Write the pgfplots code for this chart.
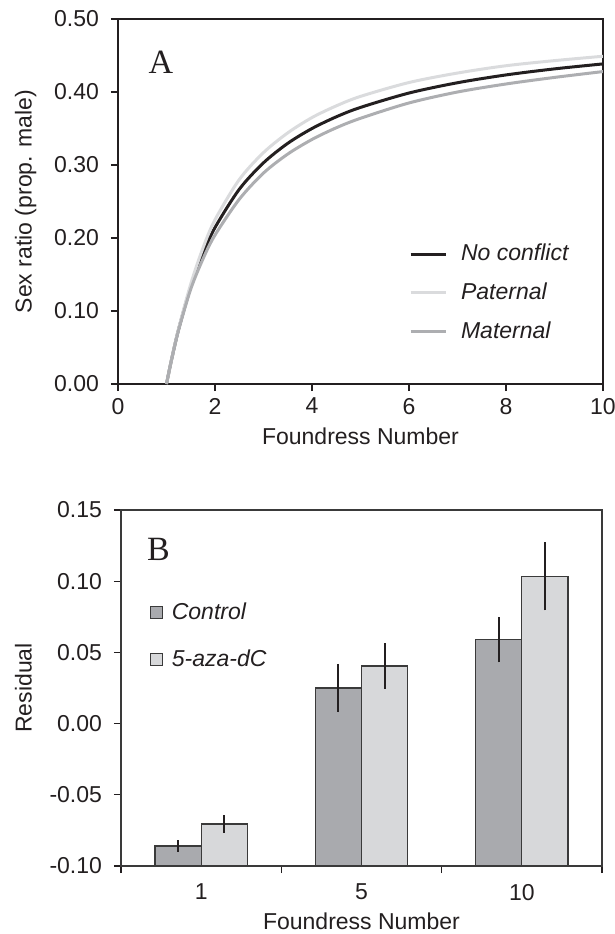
\documentclass[border=0pt]{standalone}
\usepackage{fontspec}
\setmainfont{Liberation Sans}
\newfontfamily\serifA{Liberation Serif}
\usepackage{pgfplots}
\usepackage{pgfplotstable}
\pgfplotsset{compat=1.18}

\definecolor{nocon}{HTML}{231F20}
\definecolor{pat}{HTML}{DADBDD}
\definecolor{mat}{HTML}{ADAEB1}
\definecolor{ctl}{HTML}{A9AAAE}
\definecolor{aza}{HTML}{D7D8DA}
\definecolor{edge}{HTML}{3A3A3A}

% optimal sex ratio curves
\pgfplotstableread{
n     black   pat     mat
1.00  0.0000  0.0000  0.0000
1.10  0.0321  0.0322  0.0320
1.25  0.0750  0.0760  0.0740
1.50  0.1333  0.1370  0.1300
1.75  0.1786  0.1860  0.1710
2.00  0.2143  0.2250  0.2040
2.50  0.2667  0.2800  0.2530
3.00  0.3030  0.3170  0.2890
3.50  0.3297  0.3440  0.3150
4.00  0.3500  0.3650  0.3350
4.50  0.3660  0.3810  0.3510
5.00  0.3789  0.3940  0.3640
6.00  0.3986  0.4130  0.3850
7.00  0.4127  0.4260  0.4000
8.00  0.4234  0.4360  0.4110
9.00  0.4317  0.4430  0.4200
10.00 0.4385  0.4490  0.4280
}\curves

% residuals, groups at x = 0,1,2 (foundress 1, 5, 10)
\pgfplotstableread{
x ctl    ctlerr aza     azaerr
0 -0.086 0.004  -0.0705 0.006
1 0.025  0.017  0.0405  0.016
2 0.059  0.016  0.1035  0.024
}\bars

\pgfplotsset{
  panel/.style={
    scale only axis,
    /pgf/number format/assume math mode=true,
    tick align=outside, xtick pos=left, ytick pos=left,
    major tick length=3.5pt,
    tick style={line width=0.6pt, nocon},
    font=\fontsize{11.5}{13.8}\selectfont,
    tick label style={text=nocon},
    yticklabel style={xshift=-2.5pt},
    label style={text=nocon},
    ylabel shift=2pt,
    legend cell align=left,
  },
}

\begin{document}
\begin{tikzpicture}
\useasboundingbox (-59pt,-275pt) rectangle (248.5pt,192pt);

\begin{axis}[panel,
  width=242.5pt, height=182.5pt,
  xmin=0, xmax=10, ymin=0, ymax=0.5,
  xtick={0,2,4,6,8,10}, ytick={0,0.1,0.2,0.3,0.4,0.5},
  yticklabel style={/pgf/number format/.cd,fixed,fixed zerofill,precision=2},
  axis line style={line width=0.6pt, nocon},
  xlabel={Foundress Number}, ylabel={Sex ratio (prop. male)},
  legend image code/.code={\draw[#1] (0pt,0pt) -- (17.5pt,0pt);},
  legend style={draw=none, fill=none, at={(axis cs:5.87,0.203)}, anchor=north west,
    row sep=5.5pt, column sep=5pt, font=\fontsize{11.5}{13.8}\selectfont\itshape, text=nocon},
]
\addplot[nocon, line width=1.5pt, smooth] table[x=n, y=black] {\curves};
\addplot[pat, line width=1.5pt, smooth] table[x=n, y=pat] {\curves};
\addplot[mat, line width=1.5pt, smooth] table[x=n, y=mat] {\curves};
\legend{No conflict, Paternal, Maternal}
\node[font=\serifA\fontsize{17}{17}\selectfont, text=nocon] at (axis cs:0.887,0.441) {A};
\end{axis}

\begin{axis}[panel,
  at={(1.5pt,-241pt)}, anchor=south west,
  width=240.5pt, height=178pt,
  xmin=-0.5, xmax=2.5, ymin=0, ymax=0.25,
  ybar, bar width=0.2875,
  xtick={0,1,2}, xticklabels={1,5,10},
  minor xtick={-0.5,0.5,1.5,2.5},
  major x tick style={draw=none},
  minor tick length=3.5pt,
  xticklabel style={yshift=-2pt},
  xlabel style={yshift=0.5pt},
  ytick={0,0.05,0.1,0.15,0.2,0.25},
  yticklabels={-0.10,-0.05,0.00,0.05,0.10,0.15},
  axis line style={line width=0.6pt, edge},
  xlabel={Foundress Number}, ylabel={Residual},
  legend image code/.code={\draw[#1, draw=edge, line width=0.5pt] (0pt,-3pt) rectangle (6pt,3pt);},
  legend style={draw=none, fill=none, at={(axis cs:-0.36,0.191)}, anchor=north west,
    row sep=10pt, column sep=2.5pt, font=\fontsize{11.5}{13.8}\selectfont\itshape, text=nocon},
]
\addplot[fill=ctl, draw=edge, line width=0.6pt, bar shift=-0.14375,
  error bars/.cd, y dir=both, y explicit, error mark=none,
  error bar style={line width=1pt, nocon, solid}]
  table[x=x, y expr=\thisrow{ctl}+0.1, y error=ctlerr] {\bars};
\addplot[fill=aza, draw=edge, line width=0.6pt, bar shift=0.14375,
  error bars/.cd, y dir=both, y explicit, error mark=none,
  error bar style={line width=1pt, nocon, solid}]
  table[x=x, y expr=\thisrow{aza}+0.1, y error=azaerr] {\bars};
\legend{Control, 5-aza-dC}
\node[font=\serifA\fontsize{17}{17}\selectfont, text=nocon] at (axis cs:-0.266,0.2225) {B};
\end{axis}
\end{tikzpicture}
\end{document}
